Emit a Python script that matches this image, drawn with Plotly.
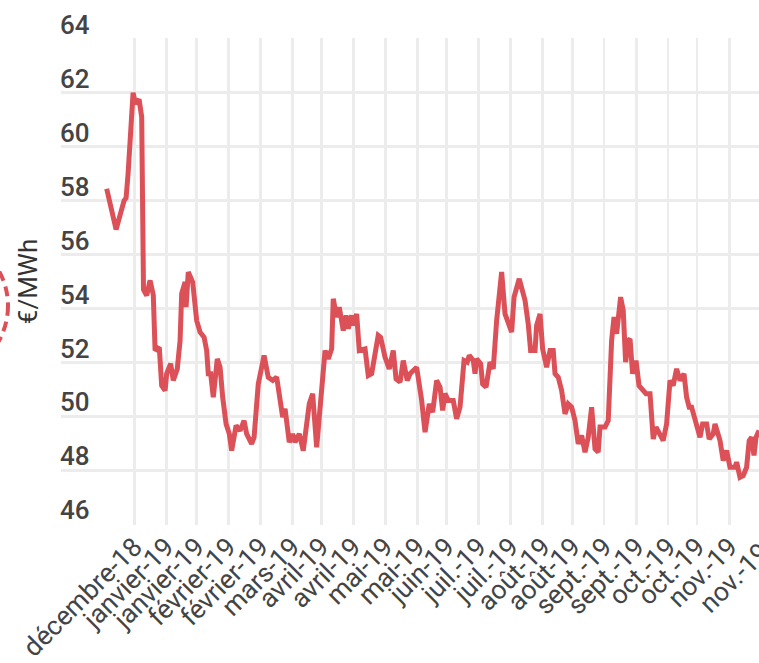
import plotly.graph_objects as go

# Trading-day position (arbitrary day units) and price in €/MWh
jours = [0, 4.7, 8.7, 9.7, 10.7, 11.9, 13.2, 14.4, 16.2, 17.5, 18.4, 20, 21.7, 23.3, 24.2,
         26.3, 27.5, 29.2, 30, 32, 33.3, 35.3, 36.7, 37.5, 39.2, 39.7, 40.8, 43, 45, 46.7,
         48.7, 50, 50.8, 52, 53.3, 55.3, 56.7, 58, 59.7, 61.3, 62.5, 64.7, 66.7, 68.7, 70,
         72.5, 73.7, 75.8, 78.7, 80.8, 83, 85, 88, 89.2, 91.3, 93, 94.2, 96.3, 98.3, 101.3,
         103, 105, 106.9, 109.2, 110.8, 112.5, 113.3, 115, 116.3, 118.3, 119.7, 120.8, 122.5,
         123.3, 125, 126.3, 129.2, 130.8, 132.5, 135.8, 137, 139.2, 141.3, 143.3, 144.7,
         146.7, 148.3, 150.3, 151.7, 155, 157.5, 159.2, 161.3, 163, 165, 166.7, 168, 169.2,
         170.8, 173.3, 175, 176.7, 178.7, 180.3, 181.3, 183.3, 184.2, 185, 187, 188, 189.7,
         191.7, 193.3, 195, 197.5, 199.2, 202.5, 203.7, 206.3, 209.2, 210.8, 212, 214.2, 215,
         216.7, 218, 220, 221.7, 223.3, 224.2, 225.8, 227.5, 229.2, 230.8, 232.5, 234.2,
         235.8, 237.5, 239.2, 240.8, 242.5, 244.2, 245.8, 246.7, 249.2, 250.8, 252.5, 253.7,
         255, 255.8, 257, 258.3, 259.5, 260.8, 261.7, 263, 264.7, 266.2, 267.5, 269.7, 271.7,
         273.3, 274.7, 276.3, 278.3, 280, 281.7, 283.3, 285, 286.7, 288.7, 290, 291.3, 292.5,
         295, 296.7, 298, 300, 301.3, 303.3, 304.2, 306.7, 308.3, 310, 311.7, 314.2, 315,
         316.7, 318.3, 320, 321.3, 322.5, 323.7, 324.7, 326.2]

prix = [58.44, 56.93, 58.0, 58.1, 59.0, 60.6, 62.0, 61.6, 61.75, 61.1, 54.7, 54.48, 55.04, 54.5, 52.44,
        52.56, 51.14, 50.96, 51.58, 51.95, 51.33, 51.76, 52.81, 54.55, 54.98, 54.05, 55.35, 54.98, 53.55, 53.12,
        52.93, 52.44, 51.58, 51.58, 50.71, 52.13, 51.82, 50.71, 49.72, 49.35, 48.73, 49.66, 49.47, 49.84, 49.35,
        48.98, 49.22, 51.2, 52.26, 51.45, 51.33, 51.45, 49.97, 50.28, 49.04, 49.35, 49.04, 49.35, 48.73, 50.46,
        50.84, 48.85, 50.4, 52.44, 52.13, 52.5, 54.36, 53.68, 54.05, 53.18, 53.74, 53.25, 53.74,
        53.37, 53.8, 52.44, 52.5, 51.51, 51.58, 53.0, 52.93, 52.19, 51.76, 52.44, 51.39,
        51.27, 52.07, 51.33, 51.58, 51.82, 50.59, 49.41, 50.46, 50.15, 51.33, 51.08, 50.22, 50.84,
        50.59, 50.59, 49.91, 50.34, 52.07, 52.01, 52.26, 52.07, 51.58, 52.13, 51.95, 51.2, 51.08,
        52.01, 51.76, 53.55, 55.35, 53.8, 53.12, 54.42, 55.1, 54.3, 53.43, 52.44, 52.44, 53.37,
        53.8, 52.5, 51.82, 52.44, 52.44, 51.58, 51.45, 50.96, 50.09, 50.46, 50.34, 49.84,
        48.98, 49.29, 48.67, 49.22, 50.34, 48.79, 48.67, 49.6, 49.6, 49.84, 52.81, 53.68,
        53.06, 53.55, 54.42, 53.93, 52.01, 52.81, 52.87, 51.58, 52.07, 51.14, 51.02, 50.84, 50.84,
        49.16, 49.6, 49.41, 49.1, 49.72, 51.33, 51.14, 51.76, 51.33, 51.58, 50.71, 50.34, 50.34,
        49.72, 49.22, 49.72, 49.72, 49.16, 49.35, 49.72, 49.1, 48.36, 48.73, 48.11, 48.11, 48.3,
        47.74, 47.8, 48.11, 49.1, 49.22, 48.55, 49.22, 49.47]

tick_pos = [13.8, 29.8, 45, 60.8, 77, 92.8, 107.3, 123.3, 139.3, 155.3, 170, 186, 202, 218,
            233, 248.8, 265, 280.8, 295.3, 311.5]
tick_labels = ["décembre-18", "janvier-19", "janvier-19", "février-19", "février-19", "mars-19",
               "avril-19", "avril-19", "mai-19", "mai-19", "juin-19", "juil.-19", "juil.-19",
               "août-19", "août-19", "sept.-19", "sept.-19", "oct.-19", "oct.-19", "nov.-19"]
cut_label = "nov.-19"   # next tick, just past the right edge

y_ticks = [46, 48, 50, 52, 54, 56, 58, 60, 62, 64]

RED = "#dc5058"
GRID = "#ececec"
XFONT = 26.5

fig = go.Figure()
fig.add_trace(go.Scatter(x=jours, y=prix, mode="lines",
                         line=dict(color=RED, width=5), hoverinfo="skip",
                         showlegend=False))

fig.update_layout(
    width=759, height=663,
    margin=dict(l=61, r=0, t=38, b=138),
    paper_bgcolor="white", plot_bgcolor="white",
    font=dict(family="Roboto", color="#444"),
    xaxis=dict(
        range=[-22.85, jours[-1]], automargin=False,
        tickmode="array", tickvals=tick_pos, ticktext=tick_labels,
        tickangle=-45, tickfont=dict(size=XFONT, color="#444"),
        showgrid=True, gridcolor=GRID, gridwidth=2.5,
        zeroline=False, showline=False, ticks="",
    ),
    yaxis=dict(
        range=[45.97, 64.03], automargin=False,
        tickmode="array", tickvals=y_ticks,
        ticklabelposition="inside", ticklabelshift=-14, ticklabelstandoff=-4,
        ticklabeloverflow="allow",
        tickfont=dict(size=26, color="#444", weight=500),
        showgrid=True, gridcolor=GRID, gridwidth=2.5,
        zeroline=False, showline=False, ticks="",
        title=dict(text="€/MWh", font=dict(size=26, color="#333"), standoff=14),
    ),
)

# last (partly cut) tick label just beyond the right edge
fig.add_annotation(x=1, y=0, xref="paper", yref="paper", text=cut_label,
                   textangle=-45, showarrow=False, xanchor="center", yanchor="middle",
                   xshift=2.7 - 28, yshift=-52, font=dict(size=XFONT, color="#444"))

# dashed circle marker partially outside on the left
fig.add_shape(type="circle", xref="paper", yref="paper", xsizemode="pixel", ysizemode="pixel",
              xanchor=0, yanchor=0.45, x0=-197, x1=-53, y0=-72, y1=72,
              line=dict(color=RED, width=4, dash="10px,6px"))

fig.write_html("out.html", config={"displayModeBar": False, "staticPlot": True})

# remove the browser's default page margin so the figure sits at the top-left corner
with open("out.html", encoding="utf-8") as f:
    html = f.read()
html = html.replace("<body>", '<body style="margin:0;padding:0;overflow:hidden">', 1)
html = html.replace("<head>", "<head><style>html,body{margin:0;padding:0;}</style>", 1)
with open("out.html", "w", encoding="utf-8") as f:
    f.write(html)
